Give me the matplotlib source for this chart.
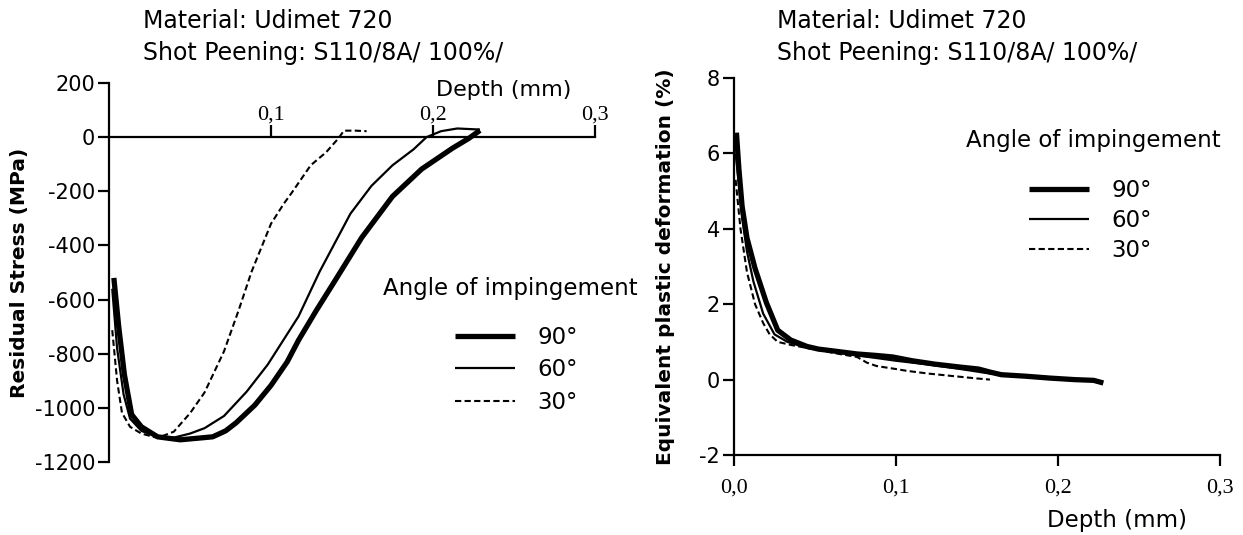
import matplotlib
matplotlib.use("Agg")
import matplotlib.pyplot as plt

# residual stress profiles (depth mm, stress MPa)
rs_x_90 = [0.003, 0.006, 0.0095, 0.014, 0.02, 0.03, 0.044, 0.055, 0.064, 0.072, 0.0785,
           0.09, 0.1, 0.11, 0.117, 0.128, 0.139, 0.156, 0.175, 0.193, 0.212, 0.222, 0.229]
rs_y_90 = [-520, -700, -877, -1025, -1070, -1107, -1118, -1112, -1107, -1085, -1055,
           -990, -917, -830, -750, -640, -535, -371, -219, -118, -41, -5, 25]
rs_x_60 = [0.002, 0.005, 0.009, 0.013, 0.02, 0.03, 0.04, 0.05, 0.059, 0.071, 0.085, 0.098,
           0.117, 0.13, 0.149, 0.162, 0.175, 0.188, 0.196, 0.205, 0.215, 0.229]
rs_y_60 = [-560, -780, -950, -1040, -1085, -1108, -1110, -1095, -1075, -1030, -940, -840,
           -662, -497, -283, -180, -104, -45, 0, 22, 32, 28]
rs_x_30 = [0.002, 0.005, 0.008, 0.013, 0.02, 0.03, 0.04, 0.05, 0.059, 0.071, 0.08, 0.088,
           0.1, 0.108, 0.1125, 0.1245, 0.134, 0.1417, 0.145, 0.152, 0.159]
rs_y_30 = [-713, -900, -1018, -1070, -1095, -1111, -1088, -1020, -943, -791, -640, -497,
           -320, -245, -208, -104, -56, -4, 24, 24, 22]

# equivalent plastic deformation (depth mm, %)
pd_x_90 = [0.0015, 0.003, 0.005, 0.008, 0.013, 0.02, 0.027, 0.035, 0.045, 0.052, 0.065,
           0.076, 0.088, 0.098, 0.11, 0.124, 0.14, 0.151, 0.158, 0.165, 0.18, 0.195, 0.21,
           0.222, 0.228]
pd_y_90 = [6.55, 5.6, 4.6, 3.76, 2.95, 2.04, 1.31, 1.05, 0.88, 0.81, 0.74, 0.68, 0.64,
           0.60, 0.50, 0.41, 0.33, 0.28, 0.2, 0.13, 0.09, 0.04, 0.0, -0.02, -0.09]
pd_x_60 = [0.001, 0.003, 0.005, 0.008, 0.012, 0.018, 0.025, 0.033, 0.045, 0.06, 0.076,
           0.09, 0.1, 0.12, 0.14, 0.155, 0.17, 0.185, 0.2]
pd_y_60 = [6.0, 5.2, 4.3, 3.4, 2.6, 1.75, 1.2, 1.0, 0.84, 0.76, 0.64, 0.56, 0.50, 0.40,
           0.28, 0.18, 0.1, 0.06, 0.02]
pd_x_30 = [0.001, 0.004, 0.008, 0.013, 0.018, 0.022, 0.027, 0.035, 0.05, 0.065, 0.076,
           0.082, 0.088, 0.1, 0.107, 0.12, 0.136, 0.15, 0.158]
pd_y_30 = [5.3, 4.0, 2.85, 2.0, 1.5, 1.2, 1.0, 0.92, 0.8, 0.68, 0.6, 0.45, 0.36, 0.28,
           0.23, 0.16, 0.09, 0.03, 0.0]

angle_labels = ["90°", "60°", "30°"]
depth_ticks = [0.0, 0.1, 0.2, 0.3]
depth_ticklabels = ["0,0", "0,1", "0,2", "0,3"]
rs_ticks = [200, 0, -200, -400, -600, -800, -1000, -1200]
pd_ticks = [8, 6, 4, 2, 0, -2]

title_lines = "Material: Udimet 720\nShot Peening: S110/8A/ 100%/"

W, H = 1243, 535
plt.rcParams["font.family"] = ["DejaVu Sans"]
fig = plt.figure(figsize=(W / 100, H / 100), dpi=100)


def px_axes(x0, x1, ytop, ybot):
    return fig.add_axes([x0 / W, 1 - ybot / H, (x1 - x0) / W, (ybot - ytop) / H])


def serif_ticks(ax, size):
    for t in ax.get_xticklabels():
        t.set_fontfamily(["Liberation Serif", "DejaVu Serif"])
        t.set_fontsize(size)


styles = [dict(lw=3.8, ls="-"), dict(lw=1.6, ls="-"), dict(lw=1.5, ls=(0, (3, 1.6)))]

# ---- left: residual stress ----
ax = px_axes(109, 595, 83, 462)
for (x, y), st, lab in zip([(rs_x_90, rs_y_90), (rs_x_60, rs_y_60), (rs_x_30, rs_y_30)],
                           styles, angle_labels):
    ax.plot(x, y, color="black", label=lab, solid_capstyle="butt", **st)
ax.set_xlim(0, 0.3)
ax.set_ylim(-1200, 200)
for s in ("top", "right"):
    ax.spines[s].set_visible(False)
ax.spines["bottom"].set_position(("data", 0))
for s in ("left", "bottom"):
    ax.spines[s].set_linewidth(1.6)
ax.set_yticks(rs_ticks)
ax.set_yticklabels([str(v) for v in rs_ticks], fontsize=15)
ax.tick_params(axis="y", direction="out", length=8, width=1.6, pad=2)
ax.set_xticks(depth_ticks[1:])
ax.set_xticklabels(depth_ticklabels[1:])
serif_ticks(ax, 16)
ax.tick_params(axis="x", direction="in", length=9, width=1.6, pad=-23)
ax.set_ylabel("Residual Stress (MPa)", fontsize=14.5, fontweight="bold")
ax.yaxis.set_label_coords(-80 / 486, 0.5)
fig.text(504 / W, 1 - 90 / H, "Depth (mm)", fontsize=16, ha="center", va="center")
fig.text(143 / W, 1 - 9 / H, title_lines, fontsize=17, ha="left", va="top",
         linespacing=1.42)
fig.text(383 / W, 1 - 288 / H, "Angle of impingement", fontsize=16.5, ha="left",
         va="center")
ax.legend(loc="upper left", bbox_to_anchor=(455 / W, 1 - 326 / H),
          bbox_transform=fig.transFigure, frameon=False, fontsize=16.5,
          handlelength=2.6, handletextpad=1.0, labelspacing=0.41, borderpad=0,
          borderaxespad=0)

# ---- right: equivalent plastic deformation ----
ax2 = px_axes(734, 1220, 78, 455)
for (x, y), st, lab in zip([(pd_x_90, pd_y_90), (pd_x_60, pd_y_60), (pd_x_30, pd_y_30)],
                           styles, angle_labels):
    ax2.plot(x, y, color="black", label=lab, solid_capstyle="butt", **st)
ax2.set_xlim(0, 0.3)
ax2.set_ylim(-2, 8)
for s in ("top", "right"):
    ax2.spines[s].set_visible(False)
for s in ("left", "bottom"):
    ax2.spines[s].set_linewidth(1.6)
ax2.set_yticks(pd_ticks)
ax2.set_yticklabels([str(v) for v in pd_ticks], fontsize=15)
ax2.tick_params(axis="y", direction="out", length=8, width=1.6, pad=2)
ax2.set_xticks(depth_ticks)
ax2.set_xticklabels(depth_ticklabels)
serif_ticks(ax2, 16)
ax2.tick_params(axis="x", direction="out", length=8, width=1.6, pad=9)
ax2.set_ylabel("Equivalent plastic deformation (%)", fontsize=14.5, fontweight="bold")
ax2.yaxis.set_label_coords(-59 / 486, 0.5)
fig.text(1117 / W, 1 - 520 / H, "Depth (mm)", fontsize=16.5, ha="center", va="center")
fig.text(777 / W, 1 - 9 / H, title_lines, fontsize=17, ha="left", va="top",
         linespacing=1.42)
fig.text(966 / W, 1 - 141 / H, "Angle of impingement", fontsize=16.5, ha="left",
         va="center")
ax2.legend(loc="upper left", bbox_to_anchor=(1029 / W, 1 - 179 / H),
           bbox_transform=fig.transFigure, frameon=False, fontsize=16.5,
           handlelength=2.6, handletextpad=1.0, labelspacing=0.31, borderpad=0,
           borderaxespad=0)

fig.savefig("out.png", dpi=100, facecolor="white")
